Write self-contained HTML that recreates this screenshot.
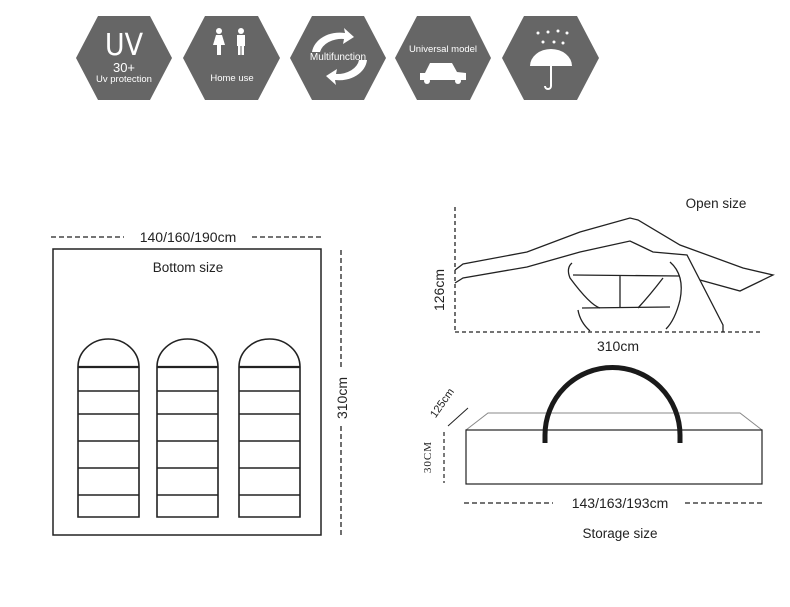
<!DOCTYPE html>
<html><head><meta charset="utf-8"><style>
html,body{margin:0;padding:0;background:#fff;width:790px;height:607px;overflow:hidden}
svg{display:block}
</style></head><body>
<svg width="790" height="607" viewBox="0 0 790 607" xmlns="http://www.w3.org/2000/svg" font-family="Liberation Sans, DejaVu Sans, sans-serif">
<g fill="#666">
<polygon points="76,58 98,16 150,16 172,58 150,100 98,100"/>
<polygon points="183,58 205,16 258,16 280,58 258,100 205,100"/>
<polygon points="290,58 312,16 364,16 386,58 364,100 312,100"/>
<polygon points="395,58 417,16 470,16 491,58 470,100 417,100"/>
<polygon points="502,58 524,16 577,16 599,58 577,100 524,100"/>
</g>
<g fill="#fff">
<text x="124" y="55" font-size="30" text-anchor="middle" font-family="DejaVu Sans Condensed, DejaVu Sans, sans-serif" font-weight="300">UV</text>
<text x="124" y="72" font-size="13" text-anchor="middle">30+</text>
<text x="124" y="82" font-size="9.5" text-anchor="middle">Uv protection</text>
<circle cx="219" cy="31" r="3"/><polygon points="216,35 222,35 225,45 221,45 221,55 217,55 217,45 213,45"/>
<circle cx="241" cy="31" r="3"/><rect x="237" y="35" width="8" height="11"/><rect x="238" y="45" width="2.5" height="10"/><rect x="241.5" y="45" width="2.5" height="10"/>
<text x="232" y="81" font-size="9.5" text-anchor="middle">Home use</text>
<path d="M312,52 A28,22 0 0 1 345,33 L344,28 L354,37 L343,44 L344,39 A22,16 0 0 0 320,52 Z"/>
<path d="M367,60 A28,22 0 0 1 335,80 L336,85 L326,76 L337,69 L336,74 A22,16 0 0 0 359,60 Z"/>
<text x="338" y="60" font-size="10" text-anchor="middle" fill="#fff">Multifunction</text>
<text x="443" y="52" font-size="9.5" text-anchor="middle">Universal model</text>
<path d="M420,73 L425,73 L430,63 L452,63 L457,72 L466,73 L466,80 L420,80 Z"/>
<circle cx="427" cy="81" r="3"/><circle cx="458" cy="81" r="3"/>
<circle cx="538" cy="33" r="1.5"/><circle cx="548" cy="32" r="1.5"/><circle cx="558" cy="31" r="1.5"/><circle cx="567" cy="33" r="1.5"/>
<circle cx="543" cy="42" r="1.5"/><circle cx="554" cy="42" r="1.5"/><circle cx="563" cy="43" r="1.5"/>
<path d="M530,66 A21,17 0 0 1 572,66 Z"/>
<path d="M551,60 L551,86 A3,3 0 0 1 545,86" stroke="#fff" stroke-width="2" fill="none"/>
</g>
<g stroke="#222" fill="none">
<line x1="51" y1="237" x2="124" y2="237" stroke-dasharray="5,3" stroke-width="1.3"/>
<line x1="252" y1="237" x2="322" y2="237" stroke-dasharray="5,3" stroke-width="1.3"/>
<rect x="53" y="249" width="268" height="286" stroke-width="1.5"/>
<line x1="341" y1="250" x2="341" y2="535" stroke-dasharray="5,3" stroke-width="1.3"/>
<g stroke-width="1.6">
<path d="M78,367 A30.5,28 0 0 1 139,367 L139,517 L78,517 Z"/>
<path d="M78,391 H139 M78,414 H139 M78,441 H139 M78,468 H139 M78,495 H139"/>
<path d="M157,367 A30.5,28 0 0 1 218,367 L218,517 L157,517 Z"/>
<path d="M157,391 H218 M157,414 H218 M157,441 H218 M157,468 H218 M157,495 H218"/>
<path d="M239,367 A30.5,28 0 0 1 300,367 L300,517 L239,517 Z"/>
<path d="M239,391 H300 M239,414 H300 M239,441 H300 M239,468 H300 M239,495 H300"/>
<path d="M78,367 H139 M157,367 H218 M239,367 H300" stroke-width="2.2"/>
</g>
</g>
<rect x="124" y="228" width="128" height="18" fill="#fff"/>
<text x="188" y="242" font-size="14" text-anchor="middle" fill="#222">140/160/190cm</text>
<rect x="333" y="370" width="16" height="56" fill="#fff"/>
<text transform="translate(347,398) rotate(-90)" font-size="14" text-anchor="middle" fill="#222">310cm</text>
<text x="188" y="272" font-size="13.5" text-anchor="middle" fill="#222">Bottom size</text>
<g stroke="#222" fill="none" stroke-width="1.3">
<line x1="455" y1="207" x2="455" y2="332" stroke-dasharray="4,3"/>
<line x1="455" y1="332" x2="760" y2="332" stroke-dasharray="4,3"/>
<path d="M455,270 L463,264 L527,252 L580,232 L630,218 L638,220 L680,245 L743,268 L773,275 L740,291 L700,280"/>
<path d="M455,283 L463,278 L527,267 L580,252 L630,241 L653,252 L687,255 L723,325 L723,332"/>
<path d="M573,275 L680,276 M620,275 L620,308 M582,308 L670,307"/>
<path d="M572,263 Q566,268 570,278 Q590,305 600,308"/>
<path d="M663,278 Q650,295 638,308"/>
<path d="M670,262 Q685,275 680,300 Q675,320 666,329"/>
<path d="M578,310 Q580,322 590,331"/>
</g>
<text x="716" y="208" font-size="13.5" text-anchor="middle" fill="#222">Open size</text>
<text transform="translate(444,290) rotate(-90)" font-size="14" text-anchor="middle" fill="#222">126cm</text>
<text x="618" y="351" font-size="14" text-anchor="middle" fill="#222">310cm</text>
<g stroke="#222" fill="none">
<path d="M466,430 L488,413 L740,413 L762,430" stroke="#888" stroke-width="1"/>
<rect x="466" y="430" width="296" height="54" stroke-width="1.2"/>
<path d="M545,443 L545,435 A67.5,67.5 0 0 1 680,435 L680,443" stroke="#1a1a1a" stroke-width="5"/>
<line x1="444" y1="432" x2="444" y2="483" stroke-dasharray="4,3" stroke-width="1.2"/>
<line x1="448" y1="426" x2="468" y2="408" stroke-width="1"/>
<line x1="464" y1="503" x2="553" y2="503" stroke-dasharray="5,3" stroke-width="1.2"/>
<line x1="685" y1="503" x2="764" y2="503" stroke-dasharray="5,3" stroke-width="1.2"/>
</g>
<text x="620" y="508" font-size="14" text-anchor="middle" fill="#222">143/163/193cm</text>
<text x="620" y="538" font-size="13.5" text-anchor="middle" fill="#222">Storage size</text>
<text transform="translate(431,457) rotate(-90)" font-size="11" text-anchor="middle" fill="#222" font-family="Liberation Serif, serif" letter-spacing="1">30CM</text>
<text transform="translate(445,405) rotate(-55)" font-size="11" text-anchor="middle" fill="#222">125cm</text>
</svg>
</body></html>
